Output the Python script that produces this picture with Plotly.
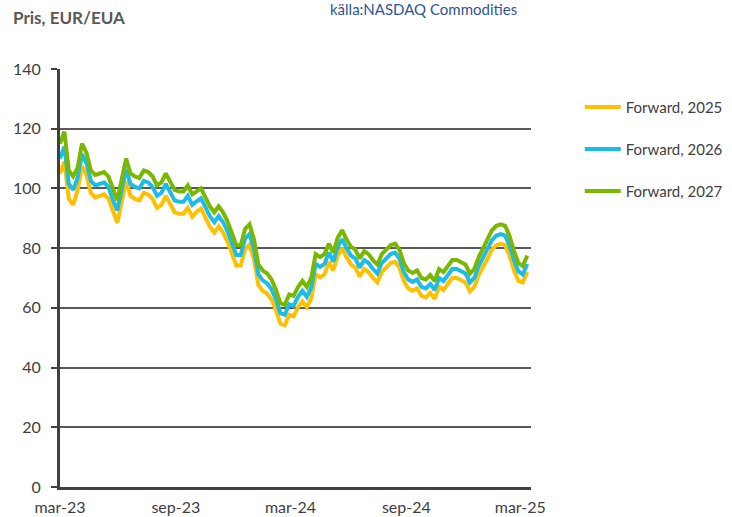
import pandas as pd
import plotly.graph_objects as go

# Weekly observations starting 2023-03-01 (EUR/EUA)
start_date = "2023-03-01"

forward_2025 = [105, 109, 96.5, 94.5, 99.5, 107.5, 104.5, 98.5, 97, 97.5,
                98, 96.5, 92, 88.5, 95.5, 102.5, 97.5, 96.5, 96, 98.5,
                98, 96.5, 93.5, 94.5, 97.5, 94.5, 92, 91.5, 91.5, 93.5,
                90.5, 92.2, 93.2, 90.2, 87.2, 85.2, 87.2, 85.2, 82.2, 78.2,
                74.2, 74.2, 79.7, 81.2, 76.2, 67.7, 65.7, 64.7, 62.7, 59.2,
                54.7, 54.2, 57.7, 57.2, 60.2, 62.2, 60.2, 63.2, 71.2, 70.2,
                71.2, 75.5, 72.5, 77.5, 80, 77, 74.5, 73.5, 70.5, 73,
                72, 70, 68.5, 72, 73.5, 75, 75.5, 73.5, 69, 66.5,
                65.7, 66.5, 64, 63.5, 65, 63, 67, 66, 68, 70,
                70, 69.2, 68.5, 65.5, 67, 71, 73.5, 76.5, 79.5, 81,
                81.5, 81, 77.5, 72.5, 69, 68.5, 72]

forward_2026 = [110, 114, 101.5, 99.5, 103.5, 111.5, 108.5, 102.5, 101, 101.5,
                102, 100.5, 96, 92.7, 99.5, 106.5, 101.5, 100.5, 100, 102.5,
                102, 100.5, 97.5, 98.5, 101.5, 98.5, 96, 95.5, 95.5, 97.5,
                94.5, 95.7, 96.7, 93.7, 90.7, 88.7, 90.7, 88.7, 85.7, 81.7,
                77.7, 77.7, 83.2, 84.7, 79.7, 71.2, 69.2, 68.2, 66.2, 62.7,
                58.2, 57.7, 61.2, 60.7, 63.7, 65.7, 63.7, 66.7, 74.7, 73.7,
                74.7, 78.5, 75.5, 80.5, 83, 80, 77.5, 76.5, 73.5, 76,
                75, 73, 71.5, 75, 76.5, 78, 78.5, 76.5, 72, 69.5,
                68.7, 69.5, 67, 66.5, 68, 66, 70, 69, 71, 73,
                73, 72.2, 71.5, 68.5, 70, 74, 76.7, 79.7, 82.7, 84.2,
                84.7, 84.2, 80.8, 76, 72.2, 71.2, 74.7]

forward_2027 = [115, 119, 106, 104, 107, 115, 112, 106, 104.5, 105,
                105.5, 104, 99.5, 96, 103, 110, 105, 104, 103.5, 106,
                105.5, 104, 101, 102, 105, 102, 99.5, 99, 99, 101,
                98, 99, 100, 97, 94, 92, 94, 92, 89, 85,
                81, 81, 86.5, 88, 83, 74.5, 72.5, 71.5, 69.5, 66,
                61.5, 61, 64.5, 64, 67, 69, 67, 70, 78, 77,
                78, 81.5, 78.5, 83.5, 86, 83, 80.5, 79.5, 76.5, 79,
                78, 76, 74.5, 78, 79.5, 81, 81.5, 79.5, 75, 72.5,
                71.7, 72.5, 70, 69.5, 71, 69, 73, 72, 74, 76,
                76, 75.2, 74.5, 71.5, 73, 77, 80, 83, 86, 87.5,
                88, 87.5, 84, 79, 75, 74, 77.5]

series_names = ["Forward, 2025", "Forward, 2026", "Forward, 2027"]
series_colors = ["#FFC000", "#1BBCE8", "#7AB800"]

tick_dates = ["2023-03-01", "2023-09-01", "2024-03-01", "2024-09-01", "2025-03-01"]
tick_labels = ["mar-23", "sep-23", "mar-24", "sep-24", "mar-25"]
y_ticks = [0, 20, 40, 60, 80, 100, 120, 140]

dates = pd.date_range(start_date, periods=len(forward_2027), freq="7D")

FONT = "Lato, 'Open Sans', sans-serif"
TXT = "#404040"

fig = go.Figure()
for i, (name, vals, col) in enumerate(zip(series_names,
                                          [forward_2025, forward_2026, forward_2027],
                                          series_colors)):
    fig.add_trace(go.Scatter(x=dates, y=vals, mode="lines", name=name,
                             legendgroup=f"g{i}",
                             line=dict(color=col, width=4)))

fig.update_layout(
    width=732, height=517,
    margin=dict(l=60, r=201, t=69, b=30, autoexpand=False),
    paper_bgcolor="white", plot_bgcolor="white",
    font=dict(family=FONT, size=16, color=TXT),
    showlegend=True,
    legend=dict(x=0.792, xref="container", y=0.8245, yref="container",
                xanchor="left", yanchor="top",
                font=dict(family=FONT, size=15, color=TXT),
                itemwidth=36, tracegroupgap=19.5,
                bgcolor="rgba(0,0,0,0)"),
    xaxis=dict(type="date", range=["2023-03-01", "2025-03-18"],
               tickvals=tick_dates, ticktext=tick_labels,
               showgrid=False, showline=True, linecolor="#404040", linewidth=3,
               ticks="", ticklabelstandoff=4, automargin=False,
               tickfont=dict(family=FONT, size=16, color=TXT)),
    yaxis=dict(range=[0, 140], tickvals=y_ticks,
               showgrid=True, gridcolor="#595959", gridwidth=2,
               zeroline=False, automargin=False,
               showline=True, linecolor="#404040", linewidth=3,
               ticks="outside", ticklen=6, tickwidth=2, tickcolor="#404040",
               ticklabelstandoff=7,
               tickfont=dict(family=FONT, size=16, color=TXT)),
    annotations=[
        dict(text="<b>Pris, EUR/EUA</b>", xref="paper", yref="paper",
             x=-0.104, y=1.124, xanchor="left", yanchor="middle",
             showarrow=False, font=dict(family=FONT, size=17, color="#595959")),
        dict(text="källa:NASDAQ Commodities", xref="paper", yref="paper",
             x=0.772, y=1.143, xanchor="center", yanchor="middle",
             showarrow=False, font=dict(family=FONT, size=15, color="#2F5597")),
    ],
)

fig.write_html("out.html",
               config={"displayModeBar": False},
               post_script="document.body.style.margin='0';")
